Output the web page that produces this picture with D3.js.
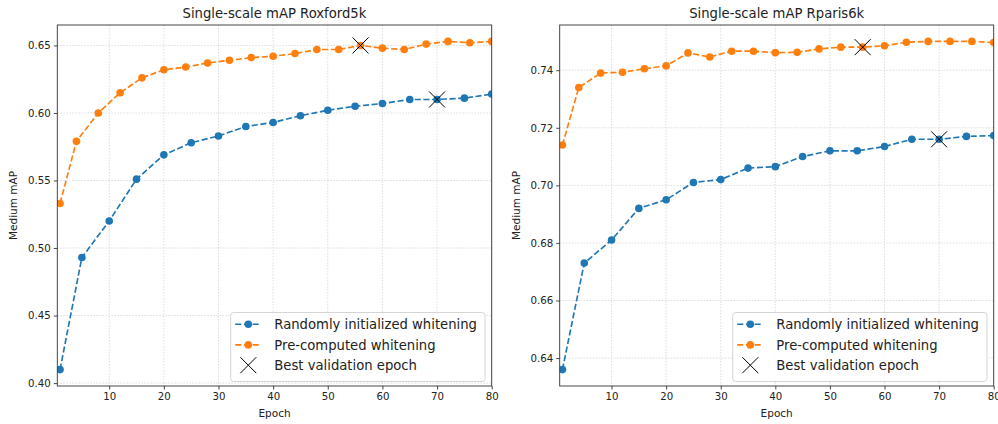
<!DOCTYPE html>
<html>
<head>
<meta charset="utf-8">
<script src="https://cdn.jsdelivr.net/npm/d3@7"></script>
<style>
  html, body { margin: 0; padding: 0; background: #fff; }
  svg { display: block; font-family: "DejaVu Sans", sans-serif; }
</style>
</head>
<body>
<svg id="chart" width="998" height="424"></svg>
<script>
// ---------------- DATA ----------------
const epochsRandom = [1, 5, 10, 15, 20, 25, 30, 35, 40, 45, 50, 55, 60, 65, 70, 75, 80];
const epochsPrecomputed = [1, 4, 8, 12, 16, 20, 24, 28, 32, 36, 40, 44, 48, 52, 56, 60, 64, 68, 72, 76, 80];

const oxfordRandom = [0.410, 0.493, 0.520, 0.551, 0.569, 0.578, 0.583, 0.590, 0.593, 0.598, 0.602, 0.605, 0.607, 0.610, 0.610, 0.611, 0.614];
const oxfordPrecomputed = [0.533, 0.579, 0.600, 0.615, 0.626, 0.632, 0.634, 0.637, 0.639, 0.641, 0.642, 0.644, 0.647, 0.647, 0.650, 0.648, 0.647, 0.651, 0.653, 0.652, 0.653];

const parisRandom = [0.636, 0.673, 0.681, 0.692, 0.695, 0.701, 0.702, 0.706, 0.7065, 0.710, 0.712, 0.712, 0.7135, 0.716, 0.716, 0.717, 0.7173];
const parisPrecomputed = [0.714, 0.734, 0.739, 0.7393, 0.7405, 0.7415, 0.746, 0.7446, 0.7466, 0.7466, 0.7461, 0.7462, 0.7474, 0.748, 0.748, 0.7485, 0.7497, 0.750, 0.750, 0.750, 0.7496];

const bestEpochRandom = 70;
const bestEpochPrecomputed = 56;

const xTicks = [10, 20, 30, 40, 50, 60, 70, 80];
const oxfordYTicks = [0.40, 0.45, 0.50, 0.55, 0.60, 0.65];
const parisYTicks = [0.64, 0.66, 0.68, 0.70, 0.72, 0.74];

const titles = ["Single-scale mAP Roxford5k", "Single-scale mAP Rparis6k"];
const legendLabels = ["Randomly initialized whitening", "Pre-computed whitening", "Best validation epoch"];
const xLabel = "Epoch";
const yLabel = "Medium mAP";

// ---------------- STYLE ----------------
const BLUE = "#1f77b4", ORANGE = "#ff7f0e";
const svg = d3.select("#chart");

const panels = [
  { x0: 57.3, x1: 491.7, y0: 25, y1: 386, random: oxfordRandom, pre: oxfordPrecomputed, yTicks: oxfordYTicks, title: titles[0], ylabX: 16.5, id: "p0" },
  { x0: 559.7, x1: 993.7, y0: 25, y1: 386, random: parisRandom, pre: parisPrecomputed, yTicks: parisYTicks, title: titles[1], ylabX: 519.5, id: "p1" }
];

panels.forEach(p => {
  const all = p.random.concat(p.pre);
  const mn = d3.min(all), mx = d3.max(all), pad = (mx - mn) * 0.05;
  const x = d3.scaleLinear().domain([0.5, 80]).range([p.x0, p.x1]);
  const y = d3.scaleLinear().domain([mn - pad, mx + pad]).range([p.y1, p.y0]);

  const g = svg.append("g");

  // clip
  svg.append("defs").append("clipPath").attr("id", "clip-" + p.id)
    .append("rect").attr("x", p.x0).attr("y", p.y0).attr("width", p.x1 - p.x0).attr("height", p.y1 - p.y0);

  // grid
  const grid = g.append("g");
  grid.selectAll(".gx").data(xTicks).enter().append("line")
    .attr("x1", d => x(d)).attr("x2", d => x(d)).attr("y1", p.y0).attr("y2", p.y1)
    .attr("stroke", "#d4d4d4").attr("stroke-width", 0.8).attr("stroke-dasharray", "1.5,1.5");
  grid.selectAll(".gy").data(p.yTicks).enter().append("line")
    .attr("x1", p.x0).attr("x2", p.x1).attr("y1", d => y(d)).attr("y2", d => y(d))
    .attr("stroke", "#d4d4d4").attr("stroke-width", 0.8).attr("stroke-dasharray", "1.5,1.5");

  // axes
  const xAxis = d3.axisBottom(x).tickValues(xTicks).tickSize(3.5).tickPadding(3).tickFormat(d3.format("d"));
  const yAxis = d3.axisLeft(y).tickValues(p.yTicks).tickSize(3.5).tickPadding(3).tickFormat(d3.format(".2f"));
  const gx = g.append("g").attr("transform", `translate(0,${p.y1})`).call(xAxis);
  const gy = g.append("g").attr("transform", `translate(${p.x0},0)`).call(yAxis);
  [gx, gy].forEach(a => {
    a.select(".domain").remove();
    a.selectAll("line").attr("stroke", "#333").attr("stroke-width", 0.9);
    a.selectAll("text").attr("fill", "#222").style("font-size", "10.2px").style("font-family", "DejaVu Sans");
  });

  // data
  const plot = g.append("g").attr("clip-path", `url(#clip-${p.id})`);
  const series = [
    { xs: epochsRandom, ys: p.random, color: BLUE, best: bestEpochRandom },
    { xs: epochsPrecomputed, ys: p.pre, color: ORANGE, best: bestEpochPrecomputed }
  ];
  series.forEach(s => {
    const pts = s.xs.map((e, i) => [e, s.ys[i]]);
    plot.append("path").datum(pts)
      .attr("d", d3.line().x(d => x(d[0])).y(d => y(d[1])))
      .attr("fill", "none").attr("stroke", s.color).attr("stroke-width", 1.65)
      .attr("stroke-dasharray", "6.1,2.6");
    plot.selectAll(null).data(pts).enter().append("circle")
      .attr("cx", d => x(d[0])).attr("cy", d => y(d[1])).attr("r", 3.8).attr("fill", s.color);
  });
  series.forEach(s => {
    const i = s.xs.indexOf(s.best);
    const cx = x(s.best), cy = y(s.ys[i]), h = 8;
    plot.append("path")
      .attr("d", `M${cx - h},${cy - h}L${cx + h},${cy + h}M${cx - h},${cy + h}L${cx + h},${cy - h}`)
      .attr("stroke", "#000").attr("stroke-width", 1).attr("fill", "none");
  });

  // spines
  g.append("rect").attr("x", p.x0).attr("y", p.y0).attr("width", p.x1 - p.x0).attr("height", p.y1 - p.y0)
    .attr("fill", "none").attr("stroke", "#333").attr("stroke-width", 0.9);

  // title and labels
  g.append("text").attr("x", (p.x0 + p.x1) / 2).attr("y", 17.5).attr("text-anchor", "middle")
    .style("font-size", "13.2px").attr("fill", "#222").text(p.title);
  g.append("text").attr("x", (p.x0 + p.x1) / 2).attr("y", 417).attr("text-anchor", "middle")
    .style("font-size", "10.5px").attr("fill", "#222").text(xLabel);
  g.append("text").attr("transform", `translate(${p.ylabX},${(p.y0 + p.y1) / 2}) rotate(-90)`)
    .attr("text-anchor", "middle").style("font-size", "10.5px").attr("fill", "#222").text(yLabel);

  // legend
  const lw = 254.3, lh = 69;
  const lx = p.x1 - 6.7 - lw, ly = p.y1 - 4.5 - lh;
  const lg = g.append("g").attr("transform", `translate(${lx},${ly})`);
  lg.append("rect").attr("width", lw).attr("height", lh).attr("rx", 3)
    .attr("fill", "#fff").attr("fill-opacity", 0.85).attr("stroke", "#d0d0d0").attr("stroke-width", 0.9);
  const rows = [11.7, 32.4, 52.7];
  [BLUE, ORANGE].forEach((c, i) => {
    lg.append("line").attr("x1", 4.5).attr("x2", 29).attr("y1", rows[i]).attr("y2", rows[i])
      .attr("stroke", c).attr("stroke-width", 1.65).attr("stroke-dasharray", "6.1,2.6");
    lg.append("circle").attr("cx", 17.6).attr("cy", rows[i]).attr("r", 3.8).attr("fill", c);
  });
  const hx = 17.6, hy = rows[2], hh = 8;
  lg.append("path").attr("d", `M${hx - hh},${hy - hh}L${hx + hh},${hy + hh}M${hx - hh},${hy + hh}L${hx + hh},${hy - hh}`)
    .attr("stroke", "#000").attr("stroke-width", 1);
  legendLabels.forEach((t, i) => {
    lg.append("text").attr("x", 43.6).attr("y", rows[i]).attr("dy", "0.35em")
      .style("font-size", "13.2px").attr("fill", "#222").text(t);
  });
});
</script>
</body>
</html>
